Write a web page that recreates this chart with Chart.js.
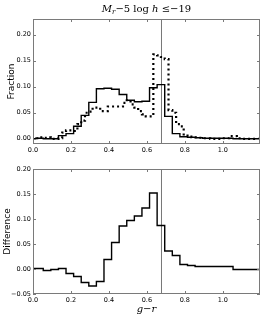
<!DOCTYPE html>
<html>
<head>
<meta charset="utf-8">
<script src="https://cdn.jsdelivr.net/npm/chart.js@4"></script>
<style>
  body { margin: 0; background: #fff; }
  #wrap { position: relative; width: 264px; height: 315px; overflow: hidden; }
  #title { position: absolute; top: 1px; left: 33px; width: 227px; text-align: center;
    font-family: 'DejaVu Serif', serif; font-size: 10px; line-height: 16px; color: #000; }
  #title sub { font-size: 7px; vertical-align: -2px; line-height: 0; }
  canvas { position: absolute; left: 0; }
  #topChart { top: 0; }
  #bottomChart { top: 157px; }
</style>
</head>
<body>
<div id="wrap">
  <canvas id="topChart" width="264" height="160"></canvas>
  <canvas id="bottomChart" width="264" height="158"></canvas>
  <div id="title"><i>M</i><sub><i>r</i></sub>&minus;5 log <i>h</i> &le;&minus;19</div>
</div>
<script>
'use strict';

// bin edges (g-r) for the two histograms
const coarseEdges = [-0.026, 0.014, 0.054, 0.094, 0.134, 0.174, 0.214, 0.254, 0.294, 0.334, 0.374,
  0.414, 0.454, 0.494, 0.534, 0.574, 0.614, 0.654, 0.694, 0.734, 0.774, 0.814, 0.854, 0.894,
  0.934, 0.974, 1.014, 1.054, 1.094, 1.134, 1.174, 1.214];
const fineEdges = [-0.006, 0.014, 0.034, 0.054, 0.074, 0.094, 0.114, 0.134, 0.154, 0.174, 0.194,
  0.214, 0.234, 0.254, 0.274, 0.294, 0.314, 0.334, 0.354, 0.374, 0.394, 0.414, 0.434, 0.454,
  0.474, 0.494, 0.514, 0.534, 0.554, 0.574, 0.594, 0.614, 0.634, 0.654, 0.674, 0.694, 0.714,
  0.734, 0.754, 0.774, 0.794, 0.814, 0.834, 0.854, 0.874, 0.894, 0.914, 0.934, 0.954, 0.974,
  0.994, 1.014, 1.034, 1.054, 1.074, 1.094, 1.114, 1.134, 1.154, 1.174, 1.194];

const fractionSolid = [0.000, 0.000, 0.001, 0.000, 0.000, 0.006, 0.010, 0.024, 0.045, 0.070, 0.096,
  0.097, 0.095, 0.085, 0.074, 0.071, 0.072, 0.098, 0.104, 0.043, 0.010, 0.004, 0.003, 0.002,
  0.001, 0.001, 0.001, 0.001, 0.000, 0.000, 0.000];
const fractionDotted = [0.000, 0.000, 0.001, 0.003, 0.002, 0.003, 0.000, 0.000, 0.001, 0.012, 0.016,
  0.016, 0.015, 0.028, 0.035, 0.050, 0.052, 0.060, 0.060, 0.053, 0.053, 0.062, 0.062, 0.062,
  0.062, 0.069, 0.074, 0.066, 0.060, 0.053, 0.047, 0.043, 0.043, 0.162, 0.160, 0.157, 0.153,
  0.055, 0.050, 0.028, 0.024, 0.006, 0.004, 0.003, 0.003, 0.002, 0.001, 0.001, 0.000, 0.000,
  0.000, 0.001, 0.001, 0.005, 0.005, 0.001, 0.000, 0.000, 0.000, 0.000];
const difference = [0.001, 0.001, 0.001, -0.003, -0.001, 0.001, -0.009, -0.015, -0.027, -0.034,
  -0.025, 0.019, 0.053, 0.086, 0.097, 0.106, 0.122, 0.152, 0.087, 0.036, 0.027, 0.009, 0.007,
  0.005, 0.005, 0.005, 0.005, 0.005, -0.001, -0.001, -0.001];

const colourCut = 0.677;

const xTicks = [0.0, 0.2, 0.4, 0.6, 0.8, 1.0];
const fractionTicks = [0.00, 0.05, 0.10, 0.15, 0.20];
const differenceTicks = [-0.05, 0.00, 0.05, 0.10, 0.15, 0.20];

const xMin = 0, xMax = 1.196;
const tickFont = { family: 'DejaVu Sans', size: 6.5 };
const frameColour = '#7a7a7a';

function stepPoints( edges, values ) {
  let pts = [];
  for ( let i = 0; i < values.length; i++ ) {
    pts.push( { x: edges[i], y: values[i] } );
  }
  pts.push( { x: edges[values.length], y: values[values.length - 1] } );
  return pts;
}

function fmt( v, d ) {
  let s = Math.abs( v ).toFixed( d );
  return v < -1e-9 ? '\u2212' + s : s;
}

// frame and inward tick marks on all four sides, like matplotlib
const framePlugin = {
  id: 'frame',
  afterDatasetsDraw( chart ) {
    const { ctx, chartArea: a, scales } = chart;
    ctx.save();
    ctx.strokeStyle = frameColour;
    ctx.lineWidth = 1;
    ctx.beginPath();
    scales.x.ticks.forEach( t => {
      let px = Math.round( scales.x.getPixelForValue( t.value ) ) + 0.5;
      ctx.moveTo( px, a.bottom ); ctx.lineTo( px, a.bottom - 3 );
      ctx.moveTo( px, a.top ); ctx.lineTo( px, a.top + 3 );
    } );
    scales.y.ticks.forEach( t => {
      let py = Math.round( scales.y.getPixelForValue( t.value ) ) + 0.5;
      ctx.moveTo( a.left, py ); ctx.lineTo( a.left + 3, py );
      ctx.moveTo( a.right, py ); ctx.lineTo( a.right - 3, py );
    } );
    ctx.stroke();
    ctx.strokeRect( a.left + 0.5, a.top + 0.5, a.width - 1, a.height - 1 );
    ctx.restore();
  }
};

function cutLine( yMin, yMax ) {
  return {
    data: [ { x: colourCut, y: yMin }, { x: colourCut, y: yMax } ],
    borderColor: '#777777',
    borderWidth: 1,
    pointRadius: 0,
    clip: 0
  };
}

function makeChart( id, datasets, yTicks, yMin, yMax, yTitle, yTitlePad, xHeight, padTop, xTitle ) {
  let ctx = document.getElementById( id ).getContext( '2d' );
  return new Chart( ctx, {
    type: 'line',
    data: { datasets: datasets },
    options: {
      responsive: false,
      animation: false,
      events: [],
      layout: { padding: { top: padTop, right: 4, left: 0, bottom: 0 } },
      plugins: { legend: { display: false }, tooltip: { enabled: false } },
      scales: {
        x: {
          type: 'linear',
          min: xMin,
          max: xMax,
          grid: { display: false, drawTicks: false },
          border: { display: false },
          afterBuildTicks: s => { s.ticks = xTicks.map( v => ( { value: v } ) ); },
          afterFit: s => { s.height = xHeight; },
          ticks: {
            font: tickFont, color: '#000', padding: 2, maxRotation: 0,
            callback: v => fmt( v, 1 )
          },
          title: xTitle ? {
            display: true, text: xTitle, color: '#000',
            font: { family: 'DejaVu Serif', size: 10, style: 'italic' },
            padding: { top: 2, bottom: 0 }
          } : { display: false }
        },
        y: {
          type: 'linear',
          min: yMin,
          max: yMax,
          grid: { display: false, drawTicks: false },
          border: { display: false },
          afterBuildTicks: s => { s.ticks = yTicks.map( v => ( { value: v } ) ); },
          afterFit: s => { s.width = 33; },
          ticks: {
            font: tickFont, color: '#000', padding: 2,
            callback: v => fmt( v, 2 )
          },
          title: {
            display: true, text: yTitle, color: '#000',
            font: { family: 'DejaVu Sans', size: 9 },
            padding: { top: yTitlePad, bottom: 0 }
          }
        }
      }
    },
    plugins: [ framePlugin ]
  } );
}

const stepStyle = { pointRadius: 0, stepped: 'after', borderColor: '#000', clip: 0, fill: false };

makeChart( 'topChart', [
  Object.assign( { data: stepPoints( fineEdges, fractionDotted ), borderWidth: 2.2,
    borderDash: [ 2, 3 ], borderCapStyle: 'butt' }, stepStyle ),
  Object.assign( { data: stepPoints( coarseEdges, fractionSolid ), borderWidth: 1.4 }, stepStyle ),
  cutLine( -0.01, 0.23 )
], fractionTicks, -0.01, 0.23, 'Fraction', 6.5, 16, 19, null );

makeChart( 'bottomChart', [
  Object.assign( { data: stepPoints( coarseEdges, difference ), borderWidth: 1.4 }, stepStyle ),
  cutLine( -0.05, 0.20 )
], differenceTicks, -0.05, 0.20, 'Difference', 2, 21, 12, 'g\u2212r' );
</script>
</body>
</html>
